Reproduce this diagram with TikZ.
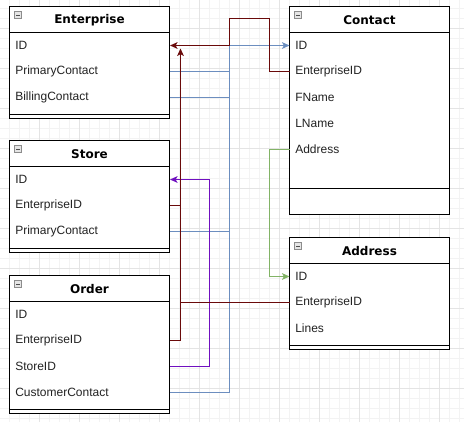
\documentclass[tikz,border=0pt]{standalone}
\usepackage{fontspec}
\setmainfont{Liberation Sans}
\newfontfamily\titlefont{DejaVu Sans}
\usetikzlibrary{arrows.meta}
\definecolor{gridmajor}{HTML}{E4E4E4}
\definecolor{gridminor}{HTML}{F3F3F3}
\definecolor{fkred}{HTML}{6A0A0A}
\definecolor{fkpurple}{HTML}{7010C0}
\definecolor{fkblue}{HTML}{6C8EBF}
\definecolor{fkgreen}{HTML}{82B366}
\definecolor{rowtext}{HTML}{222222}
\tikzset{
  boxline/.style={draw=black, line width=0.8pt},
  tabletitle/.style={font=\titlefont\bfseries\fontsize{9pt}{11pt}\selectfont, text=black, inner sep=0pt},
  rowlabel/.style={anchor=west, font=\fontsize{9pt}{11pt}\selectfont, text=rowtext,
    minimum width=120pt, text width=111.75pt, inner xsep=4.125pt, inner ysep=0pt,
    minimum height=19.5pt, align=left},
  iconbox/.style={draw=black!45, fill=black!10, line width=0.5pt},
  iconbar/.style={draw=black!70, line width=0.6pt},
  conn/.style={line width=0.9pt},
  tip/.style={-{Stealth[length=5.6pt,width=5pt,inset=1.4pt]}},
}
\begin{document}
\begin{tikzpicture}[x=0.75pt,y=-0.75pt]
\useasboundingbox (0,0) rectangle (464,422);
\fill[white] (0,0) rectangle (464,422);
% grid
\foreach \gx in {9.5,19.5,...,459.5} \draw[gridminor, line width=0.5pt] (\gx,0) -- (\gx,422);
\foreach \gy in {8.5,18.5,...,418.5} \draw[gridminor, line width=0.5pt] (0,\gy) -- (464,\gy);
\foreach \gx in {39.5,79.5,...,439.5} \draw[gridmajor, line width=0.6pt] (\gx,0) -- (\gx,422);
\foreach \gy in {28.5,68.5,...,388.5} \draw[gridmajor, line width=0.6pt] (0,\gy) -- (464,\gy);

% ---------- Enterprise ----------
\draw[boxline, fill=white] (9.5,6.5) rectangle (169.5,118.5);
\draw[boxline] (9.5,32.5) -- (169.5,32.5);
\draw[boxline] (9.5,114.5) -- (169.5,114.5);
\draw[iconbox] (14.5,11.5) rectangle ++(7,7);
\draw[iconbar] (16,15) -- (20,15);
\node[tabletitle] (ent) at (89.5,20.5) {Enterprise};
\node[rowlabel] (e-id) at (9.5,45.5) {ID};
\node[rowlabel] (e-pc) at (9.5,71.5) {PrimaryContact};
\node[rowlabel] (e-bc) at (9.5,97.5) {BillingContact};

% ---------- Store ----------
\draw[boxline, fill=white] (9.5,140.5) rectangle (169.5,252.5);
\draw[boxline] (9.5,166.5) -- (169.5,166.5);
\draw[boxline] (9.5,248.5) -- (169.5,248.5);
\draw[iconbox] (14.5,145.5) rectangle ++(7,7);
\draw[iconbar] (16,149) -- (20,149);
\node[tabletitle] (sto) at (89.5,154.5) {Store};
\node[rowlabel] (s-id) at (9.5,179.5) {ID};
\node[rowlabel] (s-eid) at (9.5,205.5) {EnterpriseID};
\node[rowlabel] (s-pc) at (9.5,231.5) {PrimaryContact};

% ---------- Order ----------
\draw[boxline, fill=white] (9.5,275.5) rectangle (169.5,413.5);
\draw[boxline] (9.5,301.5) -- (169.5,301.5);
\draw[boxline] (9.5,409.5) -- (169.5,409.5);
\draw[iconbox] (14.5,280.5) rectangle ++(7,7);
\draw[iconbar] (16,284) -- (20,284);
\node[tabletitle] (ord) at (89.5,289.5) {Order};
\node[rowlabel] (o-id) at (9.5,314.5) {ID};
\node[rowlabel] (o-eid) at (9.5,340.5) {EnterpriseID};
\node[rowlabel] (o-sid) at (9.5,366.5) {StoreID};
\node[rowlabel] (o-cc) at (9.5,392.5) {CustomerContact};

% ---------- Contact ----------
\draw[boxline, fill=white] (289.5,6.5) rectangle (449.5,214.5);
\draw[boxline] (289.5,32.5) -- (449.5,32.5);
\draw[boxline] (289.5,188.5) -- (449.5,188.5);
\draw[iconbox] (294.5,11.5) rectangle ++(7,7);
\draw[iconbar] (296,15) -- (300,15);
\node[tabletitle] (con) at (369.5,20.5) {Contact};
\node[rowlabel] (c-id) at (289.5,45.5) {ID};
\node[rowlabel] (c-eid) at (289.5,71.5) {EnterpriseID};
\node[rowlabel] (c-fn) at (289.5,97.5) {FName};
\node[rowlabel] (c-ln) at (289.5,123.5) {LName};
\node[rowlabel] (c-addr) at (289.5,149.5) {Address};

% ---------- Address ----------
\draw[boxline, fill=white] (289.5,237.5) rectangle (449.5,349.5);
\draw[boxline] (289.5,263.5) -- (449.5,263.5);
\draw[boxline] (289.5,345.5) -- (449.5,345.5);
\draw[iconbox] (294.5,242.5) rectangle ++(7,7);
\draw[iconbar] (296,246) -- (300,246);
\node[tabletitle] (adr) at (369.5,251.5) {Address};
\node[rowlabel] (a-id) at (289.5,276.5) {ID};
\node[rowlabel] (a-eid) at (289.5,302.5) {EnterpriseID};
\node[rowlabel] (a-ln) at (289.5,328.5) {Lines};

% ---------- connectors ----------
\coordinate (etip) at (180.5,48.5);
\coordinate (bluex) at (229.5,45.5);
% blue: contact references
\draw[conn, fkblue] (e-pc.east) -- (e-pc.east -| bluex);
\draw[conn, fkblue] (e-bc.east) -- (e-bc.east -| bluex);
\draw[conn, fkblue] (s-pc.east) -- (s-pc.east -| bluex);
\draw[conn, fkblue, tip] (o-cc.east) -| (bluex) -- (c-id.west);
% purple: store reference
\draw[conn, fkpurple, tip] (o-sid.east) -| (209.5,179.5) -- (s-id.east);
% dark red: enterprise references
\draw[conn, fkred] (s-eid.east) -- (s-eid.east -| etip);
\draw[conn, fkred] (a-eid.west) -- (a-eid.west -| etip);
\draw[conn, fkred, tip] (o-eid.east) -| (etip);
\draw[conn, fkred, tip] (c-eid.west) -| (269.5,18.5) -| (bluex) -- (e-id.east);
% green: address reference
\draw[conn, fkgreen, tip] (c-addr.west) -| (269.5,276.5) -- (a-id.west);
\end{tikzpicture}
\end{document}
